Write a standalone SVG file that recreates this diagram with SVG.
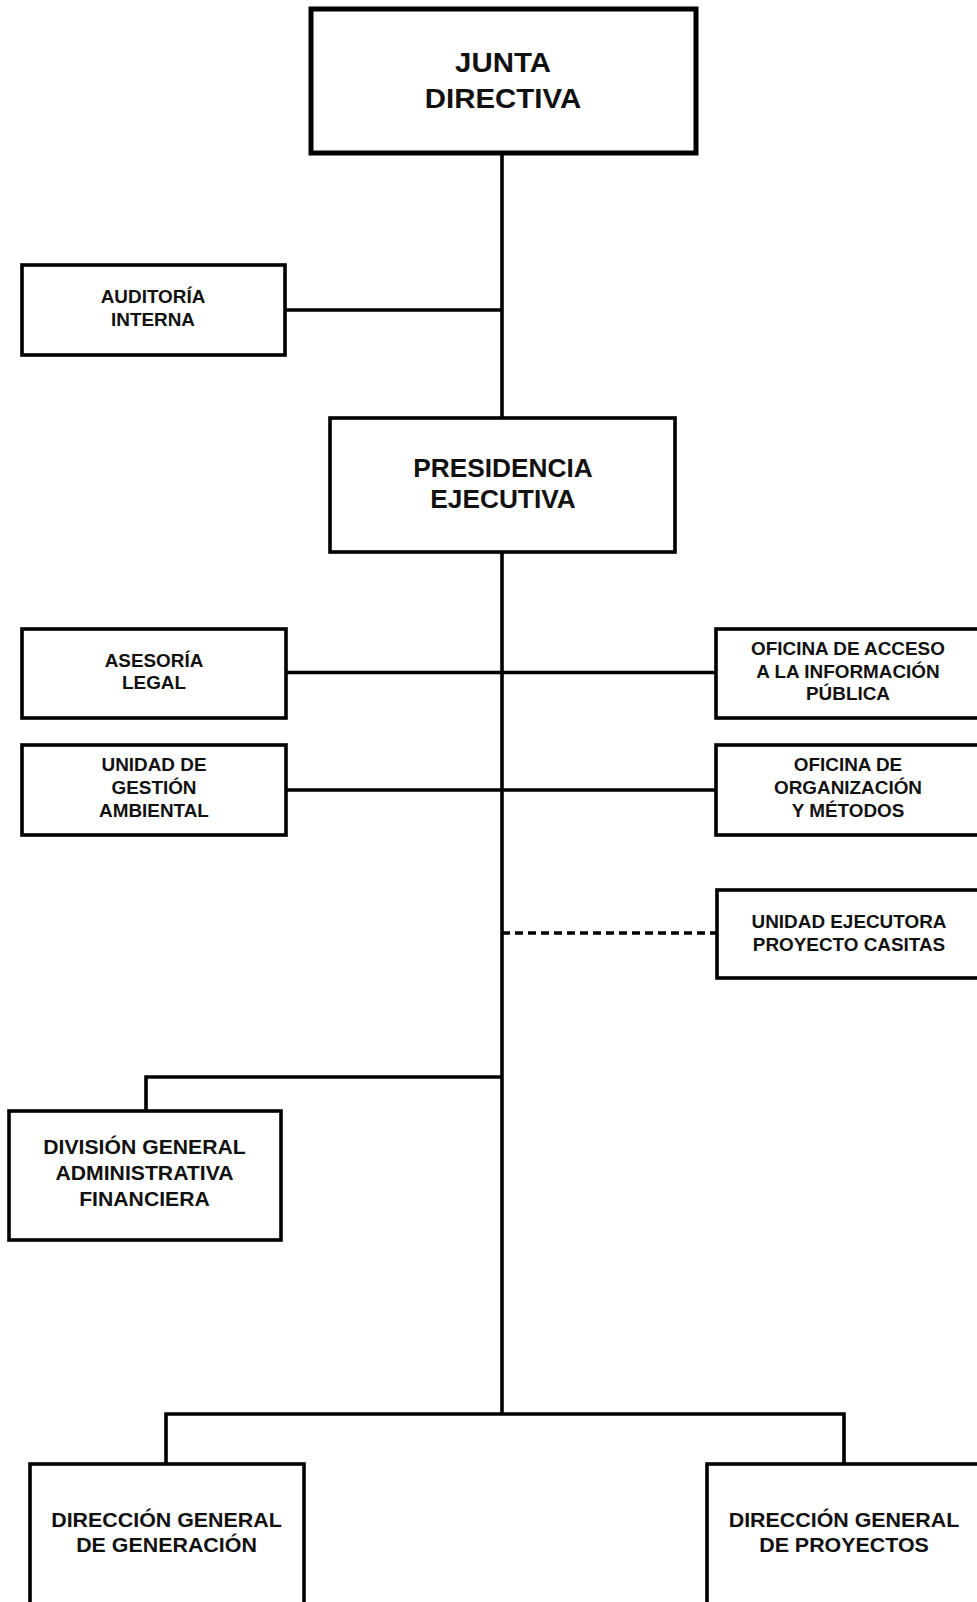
<svg xmlns="http://www.w3.org/2000/svg" width="977" height="1602" viewBox="0 0 977 1602">
<style>
.box{fill:#fff;stroke:#000;stroke-width:3.6}
.big{stroke-width:5}
.ln{fill:none;stroke:#000;stroke-width:3.6}
.dash{stroke-dasharray:8 5}
text{font-family:"Liberation Sans",Arial,sans-serif;font-weight:bold;fill:#111;text-anchor:middle}
.t27{font-size:27.5px}
.t25{font-size:25.5px}
.t20{font-size:20px}
.t17{font-size:17.5px}
</style>
<rect width="977" height="1602" fill="#fff"/>
<g id="connectors">
<path class="ln" d="M502 153V1414"/>
<path class="ln" d="M285 310H502"/>
<path class="ln" d="M286 672.5H716"/>
<path class="ln" d="M286 790H716"/>
<path class="ln dash" d="M502 933H716"/>
<path class="ln" d="M502 1077H146V1111"/>
<path class="ln" d="M166 1464V1414H844V1464"/>
</g>
<g id="junta">
<rect class="box big" x="311" y="9" width="385" height="144"/>
<text class="t27" transform="matrix(1.07 0 0 1 503 0)"><tspan x="0" y="72.5">JUNTA</tspan><tspan x="0" y="108">DIRECTIVA</tspan></text>
</g>
<g id="auditoria">
<rect class="box" x="22" y="265" width="263" height="90"/>
<text class="t17" transform="matrix(1.08 0 0 1 153 0)"><tspan x="0" y="303.5">AUDITORÍA</tspan><tspan x="0" y="326">INTERNA</tspan></text>
</g>
<g id="presidencia">
<rect class="box" x="330" y="418" width="345" height="134"/>
<text class="t25" transform="matrix(1.03 0 0 1 503 0)"><tspan x="0" y="477">PRESIDENCIA</tspan><tspan x="0" y="508.5">EJECUTIVA</tspan></text>
</g>
<g id="asesoria">
<rect class="box" x="22" y="629" width="264" height="89"/>
<text class="t17" transform="matrix(1.08 0 0 1 154 0)"><tspan x="0" y="667">ASESORÍA</tspan><tspan x="0" y="689.5">LEGAL</tspan></text>
</g>
<g id="oficina-acceso">
<rect class="box" x="716" y="629" width="266" height="89"/>
<text class="t17" transform="matrix(1.08 0 0 1 848 0)"><tspan x="0" y="655.5">OFICINA DE ACCESO</tspan><tspan x="0" y="678">A LA INFORMACIÓN</tspan><tspan x="0" y="700.5">PÚBLICA</tspan></text>
</g>
<g id="gestion-ambiental">
<rect class="box" x="22" y="745" width="264" height="90"/>
<text class="t17" transform="matrix(1.08 0 0 1 154 0)"><tspan x="0" y="771.5">UNIDAD DE</tspan><tspan x="0" y="794">GESTIÓN</tspan><tspan x="0" y="817">AMBIENTAL</tspan></text>
</g>
<g id="organizacion-metodos">
<rect class="box" x="716" y="745" width="266" height="90"/>
<text class="t17" transform="matrix(1.08 0 0 1 848 0)"><tspan x="0" y="771.5">OFICINA DE</tspan><tspan x="0" y="794">ORGANIZACIÓN</tspan><tspan x="0" y="817">Y MÉTODOS</tspan></text>
</g>
<g id="unidad-ejecutora">
<rect class="box" x="717" y="890" width="265" height="88"/>
<text class="t17" transform="matrix(1.08 0 0 1 849 0)"><tspan x="0" y="928.5">UNIDAD EJECUTORA</tspan><tspan x="0" y="951">PROYECTO CASITAS</tspan></text>
</g>
<g id="division-administrativa">
<rect class="box" x="9" y="1111" width="272" height="129"/>
<text class="t20" transform="matrix(1.06 0 0 1 144.5 0)"><tspan x="0" y="1154.5">DIVISIÓN GENERAL</tspan><tspan x="0" y="1180.5">ADMINISTRATIVA</tspan><tspan x="0" y="1206.5">FINANCIERA</tspan></text>
</g>
<g id="direccion-generacion">
<rect class="box" x="30" y="1464" width="274" height="160"/>
<text class="t20" transform="matrix(1.07 0 0 1 166.5 0)"><tspan x="0" y="1527">DIRECCIÓN GENERAL</tspan><tspan x="0" y="1552.5">DE GENERACIÓN</tspan></text>
</g>
<g id="direccion-proyectos">
<rect class="box" x="707" y="1464" width="276" height="160"/>
<text class="t20" transform="matrix(1.07 0 0 1 844 0)"><tspan x="0" y="1527">DIRECCIÓN GENERAL</tspan><tspan x="0" y="1552.5">DE PROYECTOS</tspan></text>
</g>
</svg>
